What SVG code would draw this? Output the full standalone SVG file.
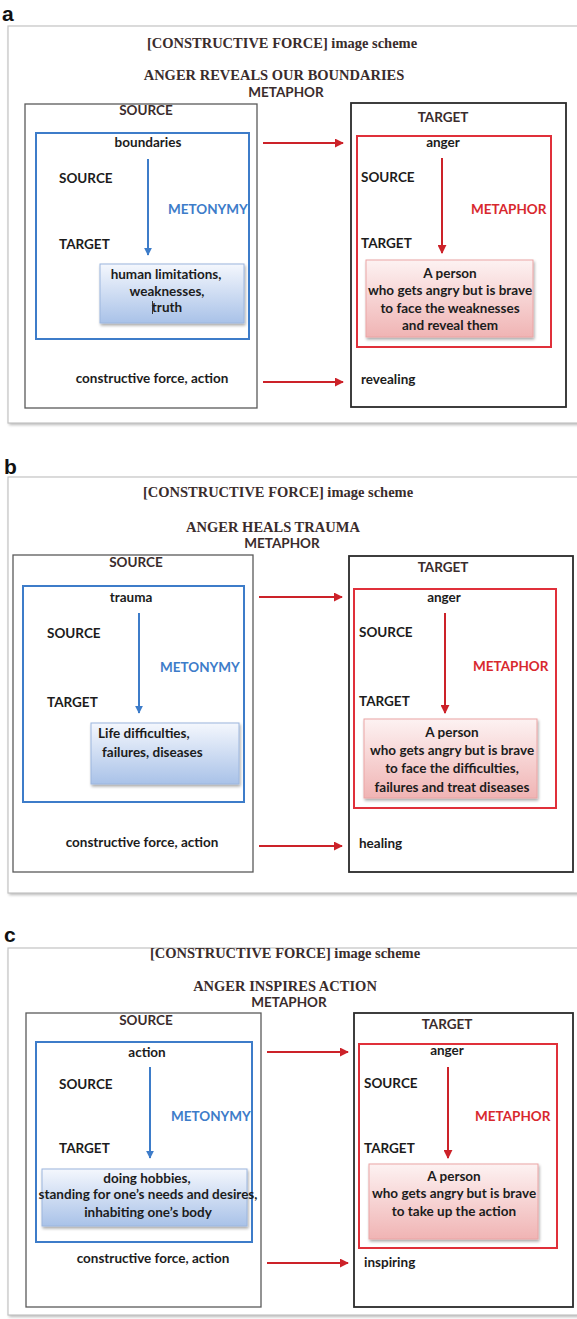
<svg xmlns="http://www.w3.org/2000/svg" width="577" height="1319" viewBox="0 0 577 1319">
  <style>
    .panel-letter { font-family: "Liberation Sans", Arial, sans-serif; font-weight: bold; font-size: 21px; fill: #111; }
    .frame { fill: #fff; stroke: #c4c4c4; stroke-width: 1.2; }
    .frame-shadow { fill: #b8b8b8; filter: url(#soft); }
    .title { font-family: "Liberation Serif", "Times New Roman", serif; font-weight: bold; font-size: 14.5px; fill: #3a2c2c; text-anchor: middle; }
    .lbl { font-family: Lato, "Liberation Sans", sans-serif; font-weight: bold; font-size: 13.5px; fill: #1c1c1c; }
    .hdr { fill: #3a2c2c; }
    .mid { text-anchor: middle; }
    .blue-t { fill: #3d7cc9; }
    .red-t { fill: #d8282e; }
    .src-box { fill: none; stroke: #5a5a5a; stroke-width: 1.3; }
    .tgt-box { fill: none; stroke: #2a2a2a; stroke-width: 1.8; }
    .blue-box { fill: none; stroke: #3d7cc9; stroke-width: 2; }
    .red-box { fill: none; stroke: #e0303a; stroke-width: 2; }
    .blue-fill { fill: url(#blueGrad); stroke: #9cb6de; stroke-width: 1; filter: url(#drop); }
    .red-fill { fill: url(#redGrad); stroke: #eba5a5; stroke-width: 1; filter: url(#drop); }
    .arr-blue { stroke: #3d7cc9; stroke-width: 2; fill: none; marker-end: url(#headBlue); }
    .arr-red { stroke: #cc2229; stroke-width: 2; fill: none; marker-end: url(#headRed); }
  </style>
  <defs>
    <linearGradient id="blueGrad" x1="0" y1="0" x2="0" y2="1">
      <stop offset="0" stop-color="#f4f7fd"/>
      <stop offset="1" stop-color="#a9c2e8"/>
    </linearGradient>
    <linearGradient id="redGrad" x1="0" y1="0" x2="0" y2="1">
      <stop offset="0" stop-color="#fdf2f2"/>
      <stop offset="1" stop-color="#f0b4b4"/>
    </linearGradient>
    <filter id="drop" x="-10%" y="-10%" width="125%" height="130%">
      <feGaussianBlur in="SourceAlpha" stdDeviation="1.5"/>
      <feOffset dx="1" dy="2" result="b"/>
      <feComponentTransfer><feFuncA type="linear" slope="0.35"/></feComponentTransfer>
      <feMerge><feMergeNode/><feMergeNode in="SourceGraphic"/></feMerge>
    </filter>
    <filter id="soft" x="-5%" y="-5%" width="110%" height="110%">
      <feGaussianBlur stdDeviation="1.5"/>
    </filter>
    <marker id="headBlue" viewBox="0 0 10 10" refX="9" refY="5" markerWidth="8" markerHeight="8" markerUnits="userSpaceOnUse" orient="auto">
      <path d="M0,0 L10,5 L0,10 z" fill="#3d7cc9"/>
    </marker>
    <marker id="headRed" viewBox="0 0 10 10" refX="9" refY="5" markerWidth="9" markerHeight="9" markerUnits="userSpaceOnUse" orient="auto">
      <path d="M0,0 L10,5 L0,10 z" fill="#cc2229"/>
    </marker>
  </defs>

  <rect width="577" height="1319" fill="#fff"/>

  <!-- ===== Panel a ===== -->
  <g id="panel-a">
    <text class="panel-letter" x="2" y="21">a</text>
    <rect class="frame-shadow" x="9" y="28" width="600" height="397"/>
    <rect class="frame" x="8" y="26" width="600" height="397"/>
    <text class="title" x="282" y="48">[CONSTRUCTIVE FORCE] image scheme</text>
    <text class="title" x="274" y="80">ANGER REVEALS OUR BOUNDARIES</text>
    <text class="lbl hdr mid" x="286" y="97">METAPHOR</text>

    <g id="a-source">
      <rect class="src-box" x="25" y="104" width="232" height="304"/>
      <text class="lbl hdr mid" x="146" y="115">SOURCE</text>
    </g>
    <g id="a-metonymy">
      <rect class="blue-box" x="36" y="133" width="213" height="206"/>
      <text class="lbl" x="59" y="183">SOURCE</text>
      <text class="lbl" x="59" y="249">TARGET</text>
      <text class="lbl blue-t" x="168" y="214">METONYMY</text>
    </g>
    <g id="a-boundaries">
      <text class="lbl mid" x="148" y="147">boundaries</text>
    </g>
    <g id="a-limitations">
      <rect class="blue-fill" x="100" y="264" width="144" height="59"/>
      <text class="lbl mid" x="166" y="279">human limitations,</text>
      <text class="lbl mid" x="167" y="296">weaknesses,</text>
      <text class="lbl mid" x="167" y="312">truth</text>
      <line x1="152.5" y1="301" x2="152.5" y2="314" stroke="#333" stroke-width="1"/>
    </g>
    <g id="a-force">
      <text class="lbl mid" x="152" y="383">constructive force, action</text>
    </g>

    <g id="a-target">
      <rect class="tgt-box" x="351" y="103" width="215" height="304"/>
      <text class="lbl hdr mid" x="443" y="122">TARGET</text>
    </g>
    <g id="a-metaphor">
      <rect class="red-box" x="357" y="136" width="194" height="211"/>
      <text class="lbl" x="361" y="182">SOURCE</text>
      <text class="lbl" x="361" y="248">TARGET</text>
      <text class="lbl red-t" x="471" y="214">METAPHOR</text>
    </g>
    <g id="a-anger">
      <text class="lbl mid" x="443" y="147">anger</text>
    </g>
    <g id="a-person">
      <rect class="red-fill" x="366" y="260" width="167" height="77"/>
      <text class="lbl mid" x="450" y="278">A person</text>
      <text class="lbl mid" x="450" y="295">who gets angry but is brave</text>
      <text class="lbl mid" x="450" y="313">to face the weaknesses</text>
      <text class="lbl mid" x="450" y="330">and reveal them</text>
    </g>
    <g id="a-revealing">
      <text class="lbl" x="361" y="384">revealing</text>
    </g>
  </g>

  <!-- ===== Panel b ===== -->
  <g id="panel-b">
    <text class="panel-letter" x="4" y="474">b</text>
    <rect class="frame-shadow" x="9" y="479" width="600" height="416"/>
    <rect class="frame" x="8" y="477" width="600" height="416"/>
    <text class="title" x="278" y="497">[CONSTRUCTIVE FORCE] image scheme</text>
    <text class="title" x="273" y="532">ANGER HEALS TRAUMA</text>
    <text class="lbl hdr mid" x="282" y="548">METAPHOR</text>

    <g id="b-source">
      <rect class="src-box" x="13" y="555" width="240" height="317"/>
      <text class="lbl hdr mid" x="136" y="567">SOURCE</text>
    </g>
    <g id="b-metonymy">
      <rect class="blue-box" x="23" y="586" width="221" height="216"/>
      <text class="lbl" x="47" y="638">SOURCE</text>
      <text class="lbl" x="47" y="707">TARGET</text>
      <text class="lbl blue-t" x="160" y="672">METONYMY</text>
    </g>
    <g id="b-trauma">
      <text class="lbl mid" x="131" y="602">trauma</text>
    </g>
    <g id="b-difficulties">
      <rect class="blue-fill" x="91" y="723" width="148" height="61"/>
      <text class="lbl" x="98" y="738">Life difficulties,</text>
      <text class="lbl" x="102" y="757">failures, diseases</text>
    </g>
    <g id="b-force">
      <text class="lbl mid" x="142" y="847">constructive force, action</text>
    </g>

    <g id="b-target">
      <rect class="tgt-box" x="349" y="556" width="224" height="316"/>
      <text class="lbl hdr mid" x="443" y="572">TARGET</text>
    </g>
    <g id="b-metaphor">
      <rect class="red-box" x="354" y="589" width="202" height="219"/>
      <text class="lbl" x="359" y="637">SOURCE</text>
      <text class="lbl" x="359" y="706">TARGET</text>
      <text class="lbl red-t" x="473" y="671">METAPHOR</text>
    </g>
    <g id="b-anger">
      <text class="lbl mid" x="444" y="602">anger</text>
    </g>
    <g id="b-person">
      <rect class="red-fill" x="364" y="719" width="173" height="79"/>
      <text class="lbl mid" x="452" y="737">A person</text>
      <text class="lbl mid" x="452" y="755">who gets angry but is brave</text>
      <text class="lbl mid" x="452" y="773">to face the difficulties,</text>
      <text class="lbl mid" x="452" y="792">failures and treat diseases</text>
    </g>
    <g id="b-healing">
      <text class="lbl" x="359" y="848">healing</text>
    </g>
  </g>

  <!-- ===== Panel c ===== -->
  <g id="panel-c">
    <text class="panel-letter" x="4" y="942">c</text>
    <rect class="frame-shadow" x="9" y="950" width="600" height="367"/>
    <rect class="frame" x="8" y="948" width="600" height="367"/>
    <text class="title" x="285" y="958">[CONSTRUCTIVE FORCE] image scheme</text>
    <text class="title" x="285" y="991">ANGER INSPIRES ACTION</text>
    <text class="lbl hdr mid" x="289" y="1007">METAPHOR</text>

    <g id="c-source">
      <rect class="src-box" x="26" y="1013" width="235" height="294"/>
      <text class="lbl hdr mid" x="146" y="1025">SOURCE</text>
    </g>
    <g id="c-metonymy">
      <rect class="blue-box" x="36" y="1042" width="216" height="200"/>
      <text class="lbl" x="59" y="1089">SOURCE</text>
      <text class="lbl" x="59" y="1153">TARGET</text>
      <text class="lbl blue-t" x="171" y="1121">METONYMY</text>
    </g>
    <g id="c-action">
      <text class="lbl mid" x="147" y="1057">action</text>
    </g>
    <g id="c-hobbies">
      <rect class="blue-fill" x="42" y="1169" width="205" height="57"/>
      <text class="lbl mid" x="147" y="1183">doing hobbies,</text>
      <text class="lbl mid" x="148" y="1199" font-size="10.7">standing for one’s needs and desires,</text>
      <text class="lbl mid" x="148" y="1217">inhabiting one’s body</text>
    </g>
    <g id="c-force">
      <text class="lbl mid" x="153" y="1263">constructive force, action</text>
    </g>

    <g id="c-target">
      <rect class="tgt-box" x="354" y="1013" width="219" height="294"/>
      <text class="lbl hdr mid" x="447" y="1029">TARGET</text>
    </g>
    <g id="c-metaphor">
      <rect class="red-box" x="359" y="1044" width="198" height="204"/>
      <text class="lbl" x="364" y="1088">SOURCE</text>
      <text class="lbl" x="364" y="1153">TARGET</text>
      <text class="lbl red-t" x="475" y="1121">METAPHOR</text>
    </g>
    <g id="c-anger">
      <text class="lbl mid" x="447" y="1055">anger</text>
    </g>
    <g id="c-person">
      <rect class="red-fill" x="369" y="1164" width="169" height="75"/>
      <text class="lbl mid" x="454" y="1181">A person</text>
      <text class="lbl mid" x="454" y="1198">who gets angry but is brave</text>
      <text class="lbl mid" x="454" y="1216">to take up the action</text>
    </g>
    <g id="c-inspiring">
      <text class="lbl" x="364" y="1267">inspiring</text>
    </g>
  </g>

  <!-- ===== Connectors ===== -->
  <g id="connectors">
    <!-- panel a -->
    <line class="arr-blue" x1="148" y1="159" x2="148" y2="255"/>
    <line class="arr-red" x1="442" y1="158" x2="442" y2="253"/>
    <line class="arr-red" x1="263" y1="143" x2="343" y2="143"/>
    <line class="arr-red" x1="263" y1="382" x2="343" y2="382"/>
    <!-- panel b -->
    <line class="arr-blue" x1="139" y1="613" x2="139" y2="713"/>
    <line class="arr-red" x1="445" y1="613" x2="445" y2="713"/>
    <line class="arr-red" x1="259" y1="597" x2="342" y2="597"/>
    <line class="arr-red" x1="259" y1="846" x2="342" y2="846"/>
    <!-- panel c -->
    <line class="arr-blue" x1="150" y1="1067" x2="150" y2="1158"/>
    <line class="arr-red" x1="448" y1="1067" x2="448" y2="1158"/>
    <line class="arr-red" x1="267" y1="1052" x2="348" y2="1052"/>
    <line class="arr-red" x1="267" y1="1263" x2="348" y2="1263"/>
  </g>
</svg>
